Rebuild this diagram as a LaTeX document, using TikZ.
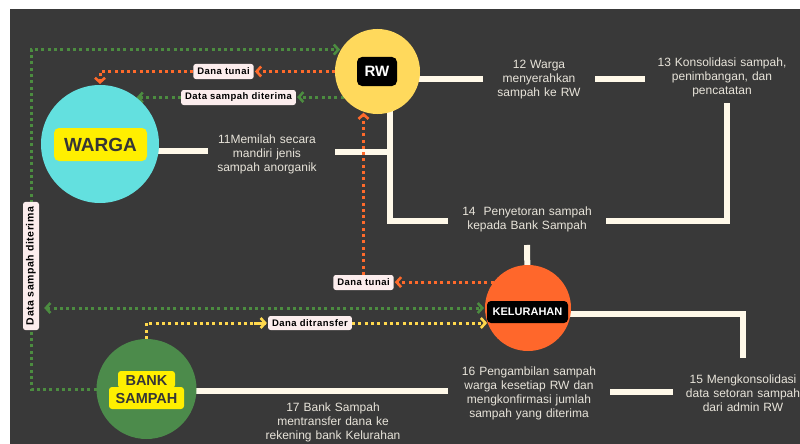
\documentclass[tikz,border=0pt]{standalone}
\usepackage{fontspec}
\setmainfont{Liberation Sans}
\newfontfamily\lblfont[LetterSpace=5]{Liberation Sans}
\usetikzlibrary{arrows.meta}
\definecolor{bgdark}{HTML}{393939}
\definecolor{cream}{HTML}{FFF9E9}
\definecolor{ptextc}{HTML}{E8E4DA}
\definecolor{gdotc}{HTML}{4C8C40}
\definecolor{odotc}{HTML}{FF6A2B}
\definecolor{ydotc}{HTML}{FFD84D}
\definecolor{lblc}{HTML}{FCEDED}
\definecolor{wargac}{HTML}{63E0DF}
\definecolor{rwc}{HTML}{FFD95C}
\definecolor{kelc}{HTML}{FF672B}
\definecolor{bankc}{HTML}{4C8B4B}
\definecolor{labely}{HTML}{FFEF00}
\definecolor{darktext}{HTML}{363636}
\pgfdeclarelayer{bg}
\pgfdeclarelayer{lines}
\pgfsetlayers{bg,lines,main}
\begin{document}
\begin{tikzpicture}[x=1pt,y=-1pt,
  proc/.style={line width=6pt, draw=cream},
  ptext/.style={align=center, text=ptextc, font=\fontsize{12}{14}\selectfont, inner sep=0pt, outer sep=0pt},
  dotline/.style={line width=3pt, dash pattern=on 3pt off 3.3pt},
  gdot/.style={dotline, draw=gdotc},
  odot/.style={dotline, draw=odotc},
  ydot/.style={dotline, draw=ydotc},
  arr/.style={-{Straight Barb[length=4.5pt,width=10pt,line width=2.6pt]}, shorten >=1pt},
  darr/.style={{Straight Barb[length=4.5pt,width=10pt,line width=2.6pt]}-{Straight Barb[length=4.5pt,width=10pt,line width=2.6pt]}, shorten >=1pt},
  lbl/.style={fill=lblc, rounded corners=2.5pt, inner xsep=4pt, inner ysep=0pt, minimum height=15pt, text=black, font=\lblfont\bfseries\fontsize{9.5}{10}\selectfont},
  actor/.style={circle, inner sep=0pt, outer sep=0pt},
  tag/.style={rounded corners=5pt, inner sep=0pt, font=\bfseries}
]
\useasboundingbox (0,0) rectangle (800,444);
\begin{pgfonlayer}{bg}
  \fill[white] (0,0) rectangle (800,444);
  \fill[bgdark] (10,9) rectangle (800,444);
\end{pgfonlayer}

% actors
\node[actor, fill=wargac, minimum size=118pt] (warga) at (100,144) {};
\node[tag, fill=labely, text=darktext, minimum width=93pt, minimum height=33pt, font=\bfseries\fontsize{19}{19}\selectfont] (wargalbl) at (100.5,144.5) {WARGA};
\node[actor, fill=rwc, minimum size=85pt] (rw) at (377.5,71.5) {};
\node[tag, fill=black, text=white, minimum width=40pt, minimum height=29pt, font=\bfseries\fontsize{15}{15}\selectfont] (rwlbl) at (377,71.5) {RW};
\node[actor, fill=kelc, minimum size=86pt] (kel) at (528,308) {};
\node[tag, fill=black, text=white, rounded corners=4pt, minimum width=81pt, minimum height=22pt, font=\bfseries\fontsize{11}{11}\selectfont] (kellbl) at (527.5,312) {KELURAHAN};
\node[actor, fill=bankc, minimum size=100pt] (bank) at (146.5,389) {};
\node[fill=labely, rounded corners=3pt, minimum width=57pt, minimum height=17pt, inner sep=0pt] (banktop) at (146.5,379.5) {};
\node[fill=labely, rounded corners=3pt, minimum width=75pt, minimum height=22pt, inner sep=0pt] (bankbot) at (146.5,398) {};
\node[align=center, text=darktext, inner sep=0pt, font=\bfseries\fontsize{14.5}{18.5}\selectfont] (banklbl) at (146.5,389.75) {BANK\\SAMPAH};

% process texts
\node[ptext, text width=118pt] (t11) at (267,154) {11Memilah secara\\mandiri jenis\\sampah anorganik};
\node[ptext, text width=112pt] (t12) at (539,80) {12 Warga\\menyerahkan\\sampah ke RW};
\node[ptext, text width=154pt] (t13) at (722,77.5) {13 Konsolidasi sampah,\\penimbangan, dan\\pencatatan};
\node[ptext, text width=158pt] (t14) at (527,219) {14\ \ Penyetoran sampah\\kepada Bank Sampah};
\node[ptext, text width=140pt] (t15) at (743,393) {15 Mengkonsolidasi\\data setoran sampah\\dari admin RW};
\node[ptext, text width=162pt] (t16) at (529,393.4) {16 Pengambilan sampah\\warga kesetiap RW dan\\mengkonfirmasi jumlah\\sampah yang diterima};
\node[ptext, text width=160pt] (t17) at (333,422.4) {17 Bank Sampah\\mentransfer dana ke\\rekening bank Kelurahan};

% labels on dotted connectors
\node[lbl] (ol1) at (223.5,71.5) {Dana tunai};
\node[lbl] (gl2) at (238.5,97.5) {Data sampah diterima};
\node[lbl] (ol2) at (363.5,282.5) {Dana tunai};
\node[lbl, minimum height=16pt, inner xsep=5pt, font=\lblfont\bfseries\fontsize{10.5}{11}\selectfont, rotate=90] (gl1) at (31,266) {Data sampah diterima};
\node[lbl, minimum height=14pt] (yl) at (310,323) {Dana ditransfer};

\begin{pgfonlayer}{lines}
  % process flow lines
  \coordinate (rwj) at ([xshift=12pt]rw.center);
  \draw[proc] ([yshift=3pt]t11.west -| warga.center) -- ([yshift=3pt]t11.west);
  \draw[proc] ([xshift=9pt,yshift=2.5pt]t11.east) -- ([yshift=2.5pt]t11.east -| rwj);
  \draw[proc] (rwj) |- ([yshift=-2pt]t14.west);
  \draw[proc] ([yshift=1pt]t12.west -| rw.center) -- ([yshift=1pt]t12.west);
  \draw[proc] ([yshift=1pt]t12.east) -- ([yshift=1pt]t12.east -| t13.west);
  \draw[proc] ([xshift=5pt,yshift=-6pt]t13.south) |- ([yshift=-2pt]t14.east);
  \draw[proc] ([yshift=-13.4pt]t14.south) -- (kel.center);
  \draw[proc] ([yshift=-6pt]kel.center) -| ([yshift=16.4pt]t15.north);
  \draw[proc] ([yshift=1.5pt]t16.east) -- ([yshift=1.5pt]t16.east -| t15.west);
  \draw[proc] ([yshift=2.4pt]t16.west) -- ([yshift=2.4pt]t16.west -| bank.center);

  % dotted connectors
  \draw[gdot] (bank.west) -| (gl1.center);
  \draw[gdot, arr] (gl1.center) |- (rw.149);
  \draw[gdot, darr, shorten <=1pt] ([xshift=4pt]gl1.south |- kel.west) -- (kel.west);
  \draw[gdot, arr] (rw.217) -- (rw.217 -| gl2.east);
  \draw[gdot, arr] (gl2.west) -- (gl2.west -| warga.53);
  \draw[odot, arr] (rw.west) -- (ol1.east);
  \draw[odot, arr] (ol1.west) -| (warga.north);
  \draw[odot, arr] (kel.143) -- (kel.143 -| ol2.east);
  \draw[odot, arr] (ol2.north) -- (ol2.north |- rw.251);
  \draw[ydot] (bank.north) |- (yl.west);
  \draw[ydot, arr] ([xshift=-14pt]yl.west) -- (yl.west);
  \draw[ydot, arr] (yl.east) -- (yl.east -| kel.202);
\end{pgfonlayer}
\end{tikzpicture}
\end{document}
